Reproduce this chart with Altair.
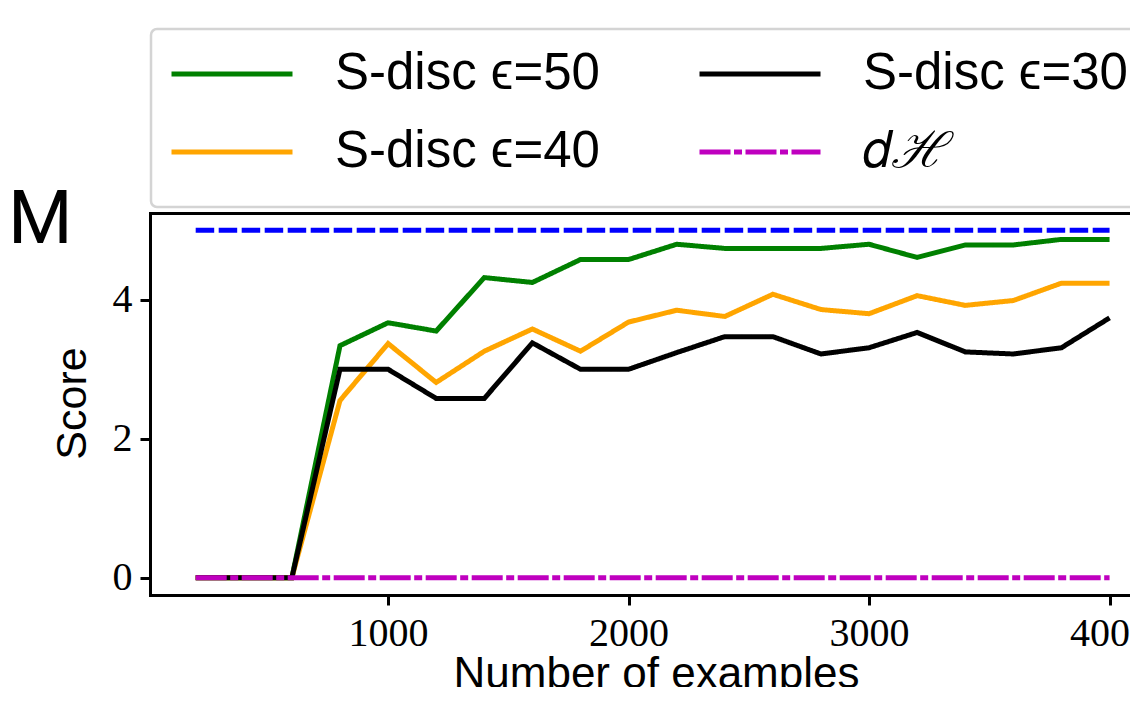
import altair as alt
import pandas as pd

# ---------------- data ----------------
n_examples = [200, 400, 600, 800, 1000, 1200, 1400, 1600, 1800, 2000,
              2200, 2400, 2600, 2800, 3000, 3200, 3400, 3600, 3800, 4000]
score_eps50 = [0, 0, 0, 3.34, 3.67, 3.55, 4.32, 4.25, 4.58, 4.58,
               4.80, 4.74, 4.74, 4.74, 4.80, 4.61, 4.79, 4.79, 4.87, 4.87]
score_eps40 = [0, 0, 0, 2.55, 3.37, 2.81, 3.26, 3.58, 3.26, 3.68,
               3.85, 3.76, 4.08, 3.86, 3.80, 4.06, 3.92, 3.99, 4.24, 4.24]
score_eps30 = [0, 0, 0, 3.00, 3.00, 2.58, 2.58, 3.38, 3.00, 3.00,
               3.24, 3.47, 3.47, 3.22, 3.31, 3.53, 3.25, 3.22, 3.31, 3.74]
score_dH = [0, 0, 0, 0, 0, 0, 0, 0, 0, 0,
            0, 0, 0, 0, 0, 0, 0, 0, 0, 0]
score_max = [5, 5, 5, 5, 5, 5, 5, 5, 5, 5,
             5, 5, 5, 5, 5, 5, 5, 5, 5, 5]

name_eps50 = "S-disc \u03f5=50"
name_eps40 = "S-disc \u03f5=40"
name_eps30 = "S-disc \u03f5=30"
name_dH = "\U0001D451\u210B"
# legend order (filled column by column, two columns)
series_names = [name_eps50, name_eps40, name_eps30, name_dH]
series_colors = ["#008000", "#ffa500", "#000000", "#bf00bf"]
series_dashes = [[1, 0], [1, 0], [1, 0], [31, 3.5, 8, 3.5]]

x_ticks = [1000, 2000, 3000, 4000]
y_ticks = [0, 2, 4]
panel_label = ["M"]
x_title = "Number of examples"
y_title = "Score"

# ---------------- tables ----------------
rows = []
for name, vals in [(name_eps50, score_eps50), (name_eps40, score_eps40),
                   (name_eps30, score_eps30), (name_dH, score_dH)]:
    for n, v in zip(n_examples, vals):
        rows.append({"n": n, "score": v, "series": name})
df = pd.DataFrame(rows)
ref_df = pd.DataFrame({"n": n_examples, "score": score_max})
label_df = pd.DataFrame({"label": panel_label})

# ---------------- encodings ----------------
xscale = alt.Scale(domain=[10, 4085], nice=False, zero=False)
yscale = alt.Scale(domain=[-0.25, 5.25], nice=False, zero=False)

x_bottom = alt.X("n:Q", scale=xscale,
                 axis=alt.Axis(orient="bottom", values=x_ticks, format="d",
                               title=x_title, titleX=506, titleY=92,
                               titleBaseline="alphabetic", titleAlign="center",
                               titleFontSize=44, labelPadding=8))
x_none = alt.X("n:Q", scale=xscale, axis=None)
x_top = alt.X("n:Q", scale=xscale,
              axis=alt.Axis(orient="top", labels=False, ticks=False,
                            title=None, domain=True))
y_enc = alt.Y("score:Q", scale=yscale,
              axis=alt.Axis(values=y_ticks, format="d", title=y_title,
                            titleX=-65, titleY=190, titleAngle=270,
                            titleBaseline="alphabetic", titleAlign="center",
                            titleFontSize=43, labelPadding=8))

legend = alt.Legend(orient="none", legendX=1, legendY=-184,
                    direction="vertical", columns=2, padding=18,
                    strokeColor="#d4d4d4", cornerRadius=6, fillColor="white",
                    symbolType="stroke", symbolSize=14641, symbolStrokeWidth=5,
                    clipHeight=54, labelFont="Liberation Sans", labelFontSize=51,
                    labelColor="black", labelOffset=40, labelLimit=1000,
                    columnPadding=97, rowPadding=24,
                    title="\u00a0", titleOrient="bottom", titleFontSize=8,
                    titleColor="transparent", titlePadding=2)
color = alt.Color("series:N",
                  scale=alt.Scale(domain=series_names, range=series_colors),
                  legend=legend)
dash = alt.StrokeDash("series:N",
                      scale=alt.Scale(domain=series_names, range=series_dashes),
                      legend=legend)


def series_layer(name, xenc):
    return (alt.Chart(df)
            .transform_filter(alt.datum.series == name)
            .mark_line(strokeWidth=5)
            .encode(x=xenc, y=y_enc, color=color, strokeDash=dash))


green = series_layer(name_eps50, x_bottom)
orange = series_layer(name_eps40, x_none)
black = series_layer(name_eps30, x_none)
magenta = series_layer(name_dH, x_none)

blue = (alt.Chart(ref_df)
        .mark_line(strokeWidth=5, color="#0000ff", strokeDash=[18.5, 4.5])
        .encode(x=x_top, y=y_enc))

label = (alt.Chart(label_df)
         .mark_text(font="Roboto", fontSize=74, align="left",
                    baseline="alphabetic", color="black")
         .encode(x=alt.value(-142), y=alt.value(30), text="label:N"))

chart = (alt.layer(green, orange, black, magenta, blue, label)
         .resolve_axis(x="independent")
         .properties(width=980, height=382,
                     padding={"left": 142, "top": 205, "right": 0, "bottom": 92},
                     autosize=alt.AutoSizeParams(type="none"))
         .configure_view(stroke="transparent")
         .configure_axis(domainColor="black", domainWidth=3, domainCap="square",
                         tickColor="black", tickWidth=3, tickSize=10, grid=False,
                         labelFont="Liberation Serif", labelFontSize=40,
                         labelColor="black", labelFlush=False,
                         titleFont="Liberation Sans", titleFontWeight="normal",
                         titleColor="black")
         .configure_legend(strokeWidth=2.5))

chart.save("out.html", embed_options={"renderer": "svg", "actions": False})
